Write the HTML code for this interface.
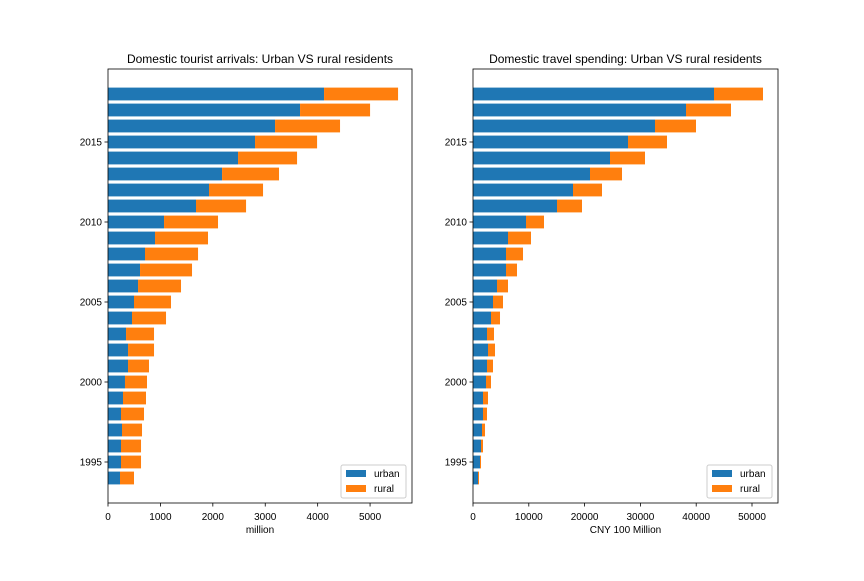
<!DOCTYPE html>
<html><head><meta charset="utf-8"><style>
body{margin:0;background:#fff;}
svg text{font-family:"Liberation Sans","DejaVu Sans",sans-serif;fill:#000;}
</style></head><body>
<svg id="c" width="864" height="576" xmlns="http://www.w3.org/2000/svg"></svg>
<script>
const years=[1994,1995,1996,1997,1998,1999,2000,2001,2002,2003,2004,2005,2006,2007,2008,2009,2010,2011,2012,2013,2014,2015,2016,2017,2018];
const arrivalsUrban=[229,248,248,267,248,286,324,382,382,344,458,496,573,611,706,897,1069,1679,1927,2176,2481,2805,3187,3664,4122];
const arrivalsRural=[267,382,382,382,439,439,420,400,496,534,649,706,820,992,1012,1011,1030,955,1031,1087,1126,1184,1240,1336,1412];
const spendUrban=[896,1254,1434,1613,1792,1792,2330,2509,2688,2509,3226,3584,4301,5914,5914,6272,9498,15054,17921,20968,24552,27778,32616,38172,43190];
const spendRural=[179,180,358,538,717,896,896,1075,1255,1254,1613,1792,1971,1971,3047,4122,3226,4480,5197,5735,6272,6989,7348,8065,8781];
const yTicks=[1995,2000,2005,2010,2015];
const leftXTicks=[0,1000,2000,3000,4000,5000];
const rightXTicks=[0,10000,20000,30000,40000,50000];
const NS="http://www.w3.org/2000/svg";
const svg=document.getElementById('c');
function el(t,a,p){const e=document.createElementNS(NS,t);for(const k in a)e.setAttribute(k,a[k]);(p||svg).appendChild(e);return e;}
function panel(key,x0,x1,xmax,urban,rural,xticks,title,xlabel){
  const top=69,bot=503;
  const g=el('g',{});
  
  
  const xs=v=>x0+(v/xmax)*(x1-x0);
  const ys=y=>462-(y-1995)*16;
  years.forEach((yr,i)=>{
    const yc=ys(yr),h=12.8;
    const r1=el('rect',{x:xs(0),y:yc-h/2,width:xs(urban[i])-xs(0),height:h,fill:'#1f77b4'},g);
    
    
    const r2=el('rect',{x:xs(urban[i]),y:yc-h/2,width:xs(urban[i]+rural[i])-xs(urban[i]),height:h,fill:'#ff7f0e'},g);
    
    
  });
  el('rect',{x:x0,y:top,width:x1-x0,height:bot-top,fill:'none',stroke:'#000','stroke-width':0.8},g);
  xticks.forEach(v=>{
    el('line',{x1:xs(v),x2:xs(v),y1:bot,y2:bot+3.5,stroke:'#000','stroke-width':0.8},g);
    const t=el('text',{x:xs(v),y:bot+17,'font-size':10,'text-anchor':'middle'},g);t.textContent=v;
    
    
  });
  yTicks.forEach(v=>{
    el('line',{x1:x0-3.5,x2:x0,y1:ys(v),y2:ys(v),stroke:'#000','stroke-width':0.8},g);
    const t=el('text',{x:x0-6,y:ys(v)+3.5,'font-size':10,'text-anchor':'end'},g);t.textContent=v;
    
    
  });
  const tt=el('text',{x:(x0+x1)/2,y:63,'font-size':12,'text-anchor':'middle'},g);tt.textContent=title;
  
  
  const xl=el('text',{x:(x0+x1)/2,y:533,'font-size':10,'text-anchor':'middle'},g);xl.textContent=xlabel;
  
  
  const lg=el('g',{},g);
  
  
  const lx=x1-71,ly=bot-38;
  el('rect',{x:lx,y:ly,width:65,height:33,fill:'#fff',stroke:'#ccc',rx:2},lg);
  [['urban','#1f77b4'],['rural','#ff7f0e']].forEach((s,i)=>{
    el('rect',{x:lx+5,y:ly+5+i*15,width:20,height:7,fill:s[1]},lg);
    const t=el('text',{x:lx+33,y:ly+12+i*15,'font-size':10},lg);t.textContent=s[0];
    
    
  });
}
panel('arrivals',108,412,5800,arrivalsUrban,arrivalsRural,leftXTicks,'Domestic tourist arrivals: Urban VS rural residents','million');
panel('spending',473,778,54660,spendUrban,spendRural,rightXTicks,'Domestic travel spending: Urban VS rural residents','CNY 100 Million');
</script>
</body></html>
